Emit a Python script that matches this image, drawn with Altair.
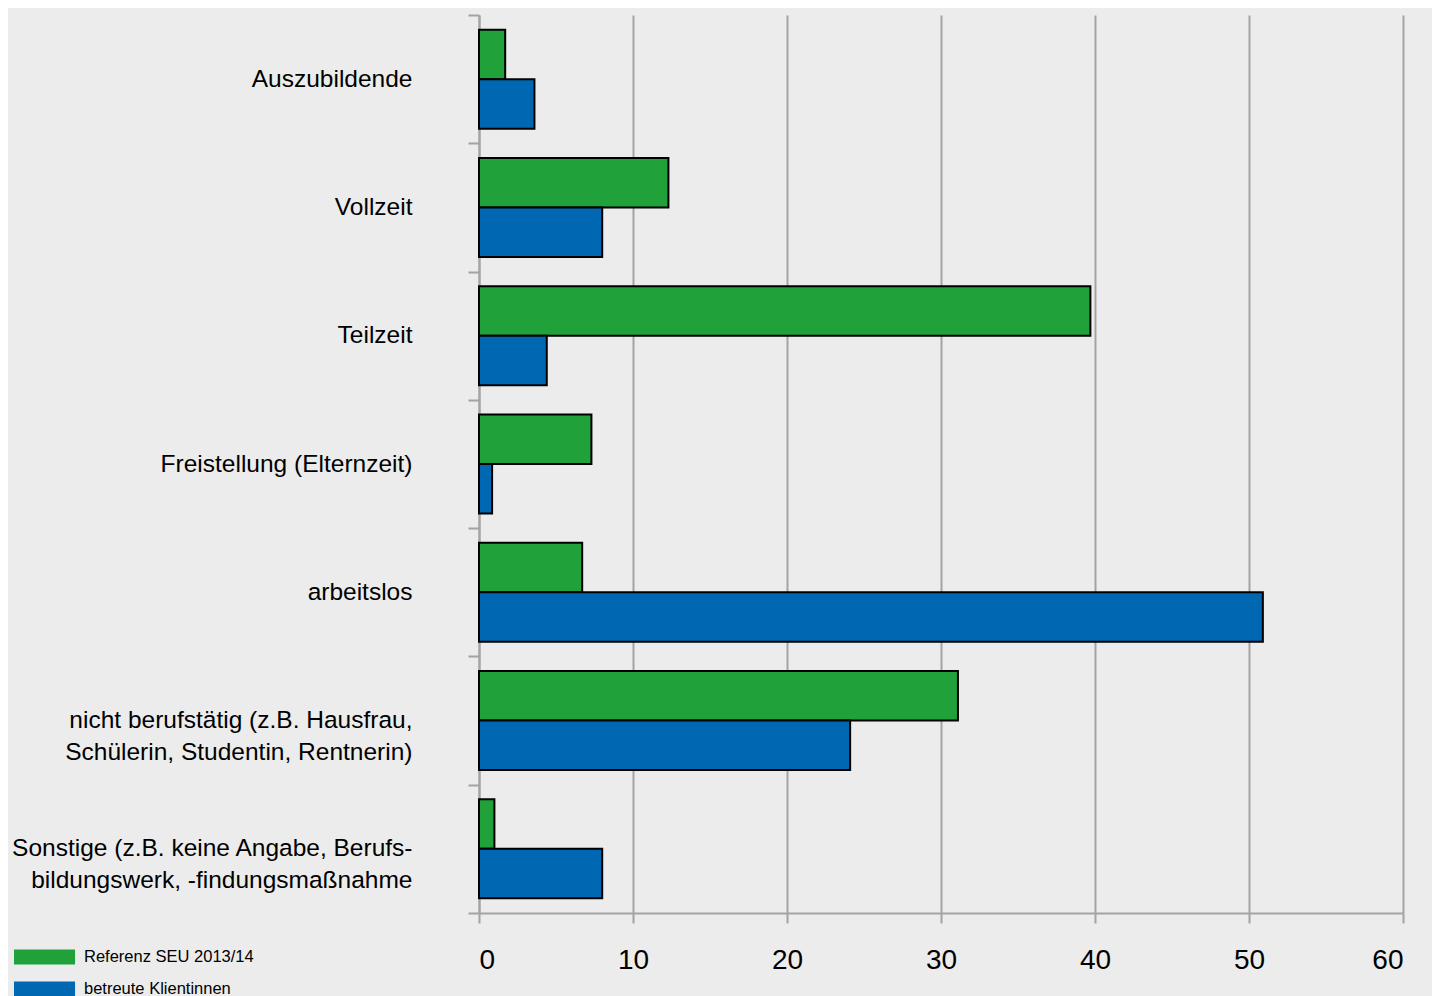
import altair as alt
import pandas as pd

categories = [
    "Auszubildende",
    "Vollzeit",
    "Teilzeit",
    "Freistellung (Elternzeit)",
    "arbeitslos",
    "nicht berufstätig (z.B. Hausfrau,\nSchülerin, Studentin, Rentnerin)",
    "Sonstige (z.B. keine Angabe, Berufs-\nbildungswerk, -findungsmaßnahme",
]
series = ["Referenz SEU 2013/14", "betreute Klientinnen"]
referenz = [1.7, 12.3, 39.7, 7.3, 6.7, 31.1, 1.0]
klientinnen = [3.6, 8.0, 4.4, 0.85, 50.9, 24.1, 8.0]
bar_colors = ["#21a139", "#0067b2"]
x_ticks = [0, 10, 20, 30, 40, 50, 60]

rows = []
for c, a, b in zip(categories, referenz, klientinnen):
    rows.append({"Kategorie": c, "Gruppe": series[0], "Wert": a})
    rows.append({"Kategorie": c, "Gruppe": series[1], "Wert": b})
df = pd.DataFrame(rows)

GRAY = "#a3a3a3"
FONT = "Liberation Sans"

y_enc = alt.Y(
    "Kategorie:N",
    sort=categories,
    title=None,
    scale=alt.Scale(paddingInner=0, paddingOuter=0),
    axis=alt.Axis(
        labelExpr="split(datum.label, '\\n')",
        labelFontSize=24.5,
        labelFont=FONT,
        labelColor="#000000",
        labelLineHeight=32,
        labelLimit=600,
        labelPadding=56,
        labelAlign="right",
        labelBaseline="middle",
        tickBand="extent",
        tickSize=11,
        tickColor=GRAY,
        tickWidth=2,
        domainColor=GRAY,
        domainWidth=2,
        grid=False,
    ),
)
x_enc = alt.X(
    "Wert:Q",
    title=None,
    scale=alt.Scale(domain=[0, 60], nice=False),
    axis=alt.Axis(
        values=x_ticks,
        labelFontSize=28,
        labelFont=FONT,
        labelColor="#000000",
        labelPadding=23,
        tickSize=10,
        tickColor=GRAY,
        tickWidth=2,
        domainColor=GRAY,
        domainWidth=2,
        grid=True,
        gridColor=GRAY,
        gridWidth=2,
    ),
)

bars = alt.Chart(df).mark_bar(stroke="#000000", strokeWidth=2).encode(
    x=x_enc,
    y=y_enc,
    yOffset=alt.YOffset(
        "Gruppe:N", sort=series, scale=alt.Scale(paddingInner=0, paddingOuter=0.296)
    ),
    fill=alt.Fill(
        "Gruppe:N",
        sort=series,
        scale=alt.Scale(domain=series, range=bar_colors),
        legend=alt.Legend(
            title=None,
            orient="none",
            legendX=-465,
            legendY=927,
            symbolType="M-1,-0.5L3.07,-0.5L3.07,0.5L-1,0.5Z",
            symbolSize=900,
            symbolStrokeWidth=0,
            labelFont=FONT,
            labelFontSize=16.5,
            labelColor="#000000",
            labelOffset=40,
            labelLimit=300,
            rowPadding=8,
        ),
    ),
)

chart = (
    bars.properties(
        width=924,
        height=898,
        background="#ececec",
        autosize=alt.AutoSizeParams(type="none"),
        padding={"left": 471, "top": 7, "right": 29, "bottom": 83},
    )
    .configure_view(stroke=None)
)

chart.save("out.html", embed_options={"renderer": "svg", "actions": False})
